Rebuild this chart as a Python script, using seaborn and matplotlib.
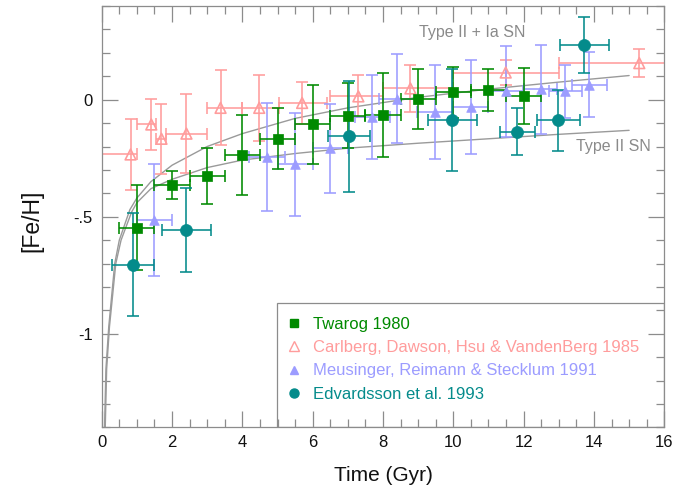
import matplotlib
matplotlib.use("Agg")
import matplotlib.pyplot as plt
from matplotlib.lines import Line2D
from matplotlib.patches import Rectangle
from matplotlib.ticker import MultipleLocator
import seaborn as sns

# ---- Twarog 1980 ----
twarog_age = [1.0, 2.0, 3.0, 4.0, 5.0, 6.0, 7.0, 8.0, 9.0, 10.0, 11.0, 12.0]
twarog_age_err = [0.5, 0.5, 0.5, 0.5, 0.5, 0.5, 0.5, 0.5, 0.5, 0.5, 0.5, 0.5]
twarog_feh = [-0.546, -0.366, -0.326, -0.237, -0.167, -0.106, -0.068, -0.066, 0.003, 0.031, 0.043, 0.014]
twarog_feh_err = [0.18, 0.06, 0.12, 0.17, 0.13, 0.17, 0.14, 0.178, 0.127, 0.11, 0.09, 0.12]

# ---- Carlberg, Dawson, Hsu & VandenBerg 1985 (age bins) ----
carlberg_age = [0.82, 1.41, 1.70, 2.41, 3.38, 4.48, 5.70, 7.30, 8.78, 11.49, 15.29]
carlberg_bin_lo = [-0.3, 1.0, 1.53, 1.84, 3.0, 4.0, 5.05, 6.5, 8.0, 10.0, 13.0]
carlberg_bin_hi = [1.0, 1.53, 1.84, 3.0, 4.0, 5.05, 6.4, 8.0, 10.0, 13.0, 16.5]
carlberg_feh = [-0.234, -0.106, -0.167, -0.145, -0.035, -0.035, -0.014, 0.014, 0.048, 0.116, 0.156]
carlberg_feh_err = [0.15, 0.11, 0.15, 0.17, 0.16, 0.14, 0.09, 0.09, 0.10, 0.055, 0.06]

# ---- Meusinger, Reimann & Stecklum 1991 ----
meus_age = [1.5, 4.7, 5.5, 6.5, 7.7, 8.4, 9.48, 10.49, 11.49, 12.48, 13.19, 13.87]
meus_age_err = [0.5, 0.52, 0.5, 0.5, 0.5, 0.5, 0.5, 0.5, 0.5, 0.48, 0.48, 0.5]
meus_feh = [-0.515, -0.245, -0.275, -0.207, -0.075, 0.003, -0.054, -0.031, 0.035, 0.045, 0.035, 0.064]
meus_feh_err = [0.24, 0.23, 0.22, 0.19, 0.18, 0.19, 0.20, 0.20, 0.195, 0.19, 0.115, 0.14]

# ---- Edvardsson et al. 1993 ----
edv_age = [0.88, 2.41, 7.04, 9.97, 11.82, 12.99, 13.73]
edv_age_err = [0.6, 0.69, 0.59, 0.69, 0.49, 0.6, 0.7]
edv_feh = [-0.705, -0.556, -0.157, -0.088, -0.137, -0.088, 0.232]
edv_feh_err = [0.22, 0.18, 0.236, 0.218, 0.10, 0.13, 0.12]

# ---- Model tracks ----
model_ia_t = [0.08, 0.12, 0.2, 0.37, 0.5, 0.8, 1.0, 1.4, 2.0, 3.0, 4.0, 5.5, 7.0, 9.0, 11.0, 13.0, 15.0]
model_ia_feh = [-1.40, -1.15, -0.97, -0.70, -0.60, -0.47, -0.42, -0.35, -0.28, -0.20, -0.145,
                -0.08, -0.035, 0.01, 0.045, 0.075, 0.103]
model_ii_t = [0.10, 0.14, 0.22, 0.40, 0.55, 0.85, 1.0, 1.4, 2.0, 3.0, 4.0, 5.5, 7.0, 9.0, 11.0, 13.0, 15.0]
model_ii_feh = [-1.40, -1.15, -0.97, -0.70, -0.60, -0.48, -0.44, -0.38, -0.34, -0.29, -0.258,
                -0.23, -0.207, -0.186, -0.167, -0.148, -0.131]

legend_labels = ["Twarog 1980", "Carlberg, Dawson, Hsu & VandenBerg 1985",
                 "Meusinger, Reimann & Stecklum 1991", "Edvardsson et al. 1993"]
x_tick_labels = ["0", "2", "4", "6", "8", "10", "12", "14", "16"]
y_tick_vals = [-1.0, -0.5, 0.0]
y_tick_labels = ["-1", "-.5", "0"]

GREEN = "#008a00"
PINK = "#ff9c9c"
BLUE = "#9c9cff"
TEAL = "#048b8b"
CURVE = "#9a9a9a"
FRAME = "#8c8c8c"
NOTE = "#8a8a8a"

sns.set_theme(style="ticks")
plt.rcParams["font.family"] = ["Liberation Sans", "DejaVu Sans"]

fig = plt.figure(figsize=(6.75, 4.92), dpi=100)
ax = fig.add_axes([0.1507, 0.1311, 0.8334, 0.8567])

# model curves
sns.lineplot(x=model_ia_t, y=model_ia_feh, color=CURVE, lw=1.0, sort=False,
             estimator=None, ax=ax, zorder=1)
sns.lineplot(x=model_ii_t, y=model_ii_feh, color=CURVE, lw=1.0, sort=False,
             estimator=None, ax=ax, zorder=1)

eb = dict(fmt="none", elinewidth=1.15, capsize=4.3, capthick=1.15)

carl_xerr = [[a - lo for a, lo in zip(carlberg_age, carlberg_bin_lo)],
             [hi - a for a, hi in zip(carlberg_age, carlberg_bin_hi)]]
ax.errorbar(carlberg_age, carlberg_feh, xerr=carl_xerr, yerr=carlberg_feh_err,
            ecolor=PINK, zorder=2, **eb)
ax.errorbar(meus_age, meus_feh, xerr=meus_age_err, yerr=meus_feh_err,
            ecolor=BLUE, zorder=2.1, **eb)
ax.errorbar(twarog_age, twarog_feh, xerr=twarog_age_err, yerr=twarog_feh_err,
            ecolor=GREEN, zorder=2.2, **eb)
ax.errorbar(edv_age, edv_feh, xerr=edv_age_err, yerr=edv_feh_err,
            ecolor=TEAL, zorder=2.3, **eb)

sns.scatterplot(x=carlberg_age, y=carlberg_feh, marker="^", s=60, facecolor="none",
                edgecolor=PINK, linewidth=1.2, ax=ax, zorder=3)
sns.scatterplot(x=meus_age, y=meus_feh, marker="^", s=48, color=BLUE,
                edgecolor=BLUE, linewidth=0.5, ax=ax, zorder=3.1)
sns.scatterplot(x=twarog_age, y=twarog_feh, marker="s", s=52, color=GREEN,
                edgecolor=GREEN, linewidth=0.5, ax=ax, zorder=3.2)
sns.scatterplot(x=edv_age, y=edv_feh, marker="o", s=75, color=TEAL,
                edgecolor=TEAL, linewidth=0.5, ax=ax, zorder=3.3)

ax.text(9.03, 0.285, "Type II + Ia SN", color=NOTE, fontsize=11.5, va="center", ha="left")
ax.text(13.49, -0.199, "Type II SN", color=NOTE, fontsize=11.5, va="center", ha="left")

# axes
ax.set_xlim(0, 16)
ax.set_ylim(-1.4, 0.4)
ax.set_xticks(range(0, 17, 2))
ax.set_xticklabels(x_tick_labels)
ax.xaxis.set_minor_locator(MultipleLocator(0.5))
ax.set_yticks(y_tick_vals)
ax.set_yticklabels(y_tick_labels)
ax.yaxis.set_minor_locator(MultipleLocator(0.1))
ax.tick_params(which="both", direction="in", top=True, right=True, color=FRAME,
               width=0.9, labelsize=12, labelcolor="#111111")
ax.tick_params(which="major", length=11.5)
ax.tick_params(which="minor", length=6)
ax.tick_params(axis="x", pad=5.5)
ax.tick_params(axis="y", pad=6.3)
for sp in ax.spines.values():
    sp.set_visible(True)
    sp.set_color(FRAME)
    sp.set_linewidth(0.9)

ax.set_xlabel("Time (Gyr)", fontsize=15, color="#111111")
ax.set_ylabel("[Fe/H]", fontsize=16.5, color="#111111")
ax.xaxis.set_label_coords(0.5, -0.091)
ax.yaxis.set_label_coords(-0.1035, 0.49)

# legend
ax.add_patch(Rectangle((0.3121, 0.0), 0.6879, 0.2947, transform=ax.transAxes,
                       fill=False, edgecolor=FRAME, lw=0.9, zorder=4))
handles = [
    Line2D([], [], ls="none", marker="s", markersize=5.5, color=GREEN),
    Line2D([], [], ls="none", marker="^", markersize=6.5, markerfacecolor="none",
           markeredgecolor=PINK, markeredgewidth=1.0),
    Line2D([], [], ls="none", marker="^", markersize=6, color=BLUE),
    Line2D([], [], ls="none", marker="o", markersize=6.5, color=TEAL),
]
leg = ax.legend(handles, legend_labels, loc="upper left", bbox_to_anchor=(0.327, 0.262),
                frameon=False, fontsize=12, borderpad=0, borderaxespad=0,
                handlelength=1.0, handletextpad=0.64, labelspacing=0.49)
for txt, col in zip(leg.get_texts(), [GREEN, PINK, BLUE, TEAL]):
    txt.set_color(col)

fig.savefig("out.png", dpi=100)
